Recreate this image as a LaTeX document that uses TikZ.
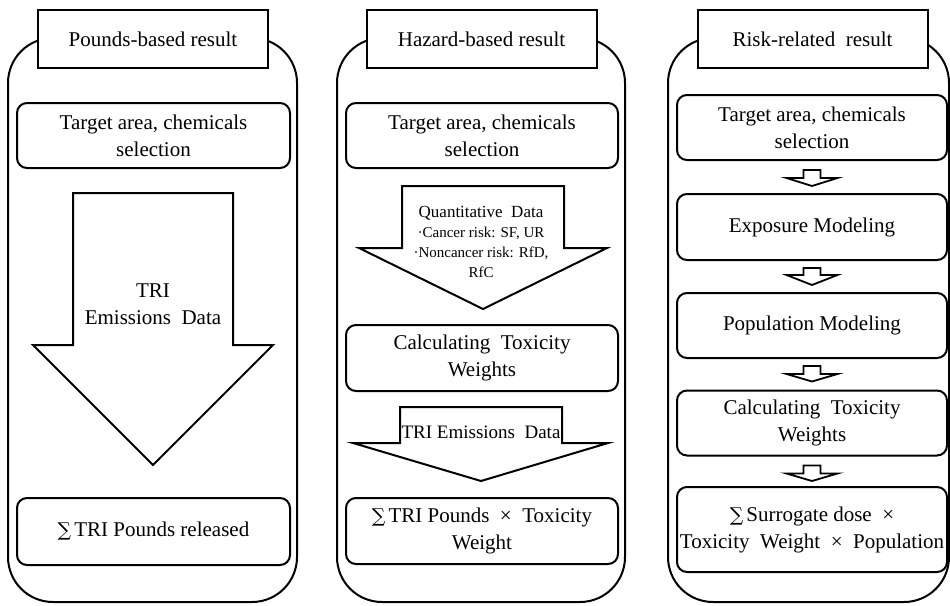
\documentclass[tikz,border=0pt]{standalone}
\usepackage{fontspec}
\setmainfont{Liberation Serif}
\newfontfamily\sumfont{DejaVu Serif}
\usetikzlibrary{calc}

\begin{document}
\begin{tikzpicture}[x=1pt, y=-1pt,
  frame/.style={draw=black, line width=2pt, rounded corners=45pt, fill=white},
  title/.style={
    draw=black, line width=2pt, fill=white,
    minimum width=230pt, minimum height=58pt,
    font=\fontsize{21}{27}\selectfont
  },
  stage/.style={
    draw=black, line width=2pt, fill=white, rounded corners=10pt,
    minimum height=65pt, align=center, inner sep=2pt,
    font=\fontsize{21}{27}\selectfont
  },
  blockarrow/.style={draw=black, line width=2pt, fill=white},
  smallarrow/.style={draw=black, line width=1.8pt, fill=white}
]
  \useasboundingbox (0,0) rectangle (950,605);

  % outer frames
  \draw[frame] (8,38) rectangle (297,602);
  \draw[frame] (337,38) rectangle (625,602);
  \draw[frame] (668,38) rectangle (949,602);

  % titles
  \node[title] (head1) at (153,39) {Pounds-based result};
  \node[title] (head2) at (481.5,39) {Hazard-based result};
  \node[title] (head3) at (812.5,39) {Risk-related\ \ result};

  % pounds-based
  \node[stage, minimum width=273pt] (tgt1) at (153.5,135.5) {Target area, chemicals\\selection};
  \node[stage, minimum width=273pt, minimum height=67pt] (sum1) at (153.5,531.5) {{\sumfont\fontsize{19}{27}\selectfont ∑}\kern3pt TRI Pounds released};
  \draw[blockarrow] (73,193) -- (233,193) -- (233,345) -- (273,345) -- (153,465)
    -- (33,345) -- (73,345) -- cycle;
  \node[align=center, font=\fontsize{21}{27}\selectfont] (emis1) at (153,304) {TRI\\Emissions\ \ Data};

  % hazard-based
  \node[stage, minimum width=272pt] (tgt2) at (482,135.5) {Target area, chemicals\\selection};
  \node[stage, minimum width=272pt, minimum height=66pt] (calc2) at (482,358) {Calculating\ \ Toxicity\\Weights};
  \node[stage, minimum width=272pt, minimum height=66pt] (sum2) at (482,531) {{\sumfont\fontsize{19}{27}\selectfont ∑}\kern3pt TRI Pounds\ \ ×\ \ Toxicity\\Weight};
  \draw[blockarrow] (402,186) -- (564,186) -- (564,248) -- (607,248) -- (483,309)
    -- (359,248) -- (402,248) -- cycle;
  \node[align=center, font=\fontsize{15}{20}\selectfont] (quant) at (481,242)
    {{\fontsize{17}{20}\selectfont Quantitative\ \ Data}\\·Cancer risk: SF, UR\\·Noncancer risk: RfD,\\RfC};
  \draw[blockarrow] (400,407) -- (562,407) -- (562,443) -- (608,443) -- (481,481)
    -- (353,443) -- (400,443) -- cycle;
  \node[font=\fontsize{19}{24}\selectfont] (emis2) at (481,432) {TRI Emissions\ \ Data};

  % risk-related
  \node[stage, minimum width=270pt] (tgt3) at (812,127.5) {Target area, chemicals\\selection};
  \node[stage, minimum width=270pt, minimum height=66pt] (expo3) at (812,227) {Exposure Modeling};
  \node[stage, minimum width=270pt] (pop3) at (812,325.5) {Population Modeling};
  \node[stage, minimum width=270pt] (calc3) at (812,423) {Calculating\ \ Toxicity\\Weights};
  \node[stage, minimum width=270pt, minimum height=85pt] (sum3) at (812,529.5) {{\sumfont\fontsize{19}{27}\selectfont ∑}\kern3pt Surrogate dose\ \ ×\\Toxicity\ \ Weight\ \ ×\ \ Population};

  \draw[smallarrow] ($(tgt3.south)+(-8.5,9)$) -- ($(tgt3.south)+(8.5,9)$) -- ($(tgt3.south)+(8.5,17)$)
    -- ($(tgt3.south)+(25.5,17)$) -- ($(expo3.north)+(0,-7)$) -- ($(tgt3.south)+(-25.5,17)$)
    -- ($(tgt3.south)+(-8.5,17)$) -- cycle;
  \draw[smallarrow] ($(expo3.south)+(-8.5,7)$) -- ($(expo3.south)+(8.5,7)$) -- ($(expo3.south)+(8.5,14)$)
    -- ($(expo3.south)+(25.5,14)$) -- ($(pop3.north)+(0,-7)$) -- ($(expo3.south)+(-25.5,14)$)
    -- ($(expo3.south)+(-8.5,14)$) -- cycle;
  \draw[smallarrow] ($(pop3.south)+(-8.5,7)$) -- ($(pop3.south)+(8.5,7)$) -- ($(pop3.south)+(8.5,15)$)
    -- ($(pop3.south)+(25.5,15)$) -- ($(calc3.north)+(0,-8)$) -- ($(pop3.south)+(-25.5,15)$)
    -- ($(pop3.south)+(-8.5,15)$) -- cycle;
  \draw[smallarrow] ($(calc3.south)+(-8.5,9)$) -- ($(calc3.south)+(8.5,9)$) -- ($(calc3.south)+(8.5,17)$)
    -- ($(calc3.south)+(25.5,17)$) -- ($(sum3.north)+(0,-5)$) -- ($(calc3.south)+(-25.5,17)$)
    -- ($(calc3.south)+(-8.5,17)$) -- cycle;
\end{tikzpicture}
\end{document}
